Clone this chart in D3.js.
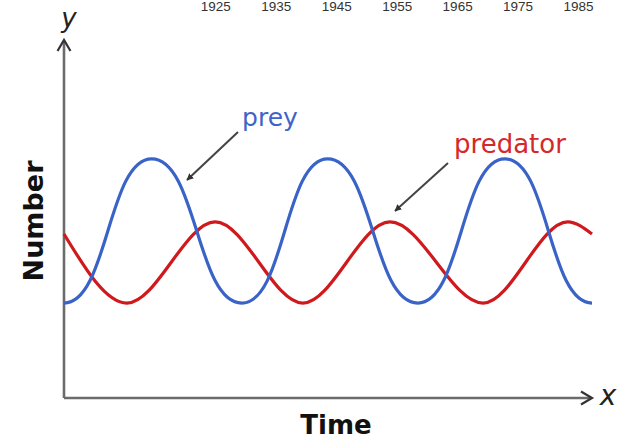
<!DOCTYPE html>
<html>
<head>
<meta charset="utf-8">
<script src="https://cdn.jsdelivr.net/npm/d3@7"></script>
<style>
  html, body { margin: 0; padding: 0; background: #fff; }
  svg { display: block; }
</style>
</head>
<body>
<svg id="chart" width="617" height="444"></svg>
<script>
// ---- data ----
const topTickYears = [1925, 1935, 1945, 1955, 1965, 1975, 1985];
const preyYears    = [1900, 1914.5, 1929.4, 1943.6, 1958.5, 1972.9, 1987.3];
const preyValues   = [26.5, 66.8, 26.5, 66.8, 26.5, 66.8, 26.5];
const predYears    = [1900, 1910.4, 1925.0, 1939.5, 1953.9, 1969.3, 1983.3, 1987.3];
const predValues   = [45.8, 26.5, 49.2, 26.5, 49.2, 26.5, 49.2, 45.8];
const seriesLabels = ["prey", "predator"];
const axisLabels   = { x: "Time", y: "Number" };

// ---- layout ----
const x0 = 64, x1 = 592, yBottom = 398, yTop = 40;
const svg = d3.select("#chart");

const x = d3.scaleLinear().domain([1900, 1987.3]).range([x0, x1]);
const y = d3.scaleLinear().domain([0, 100]).range([yBottom, yTop]);

// top axis (labels only)
const topAxis = svg.append("g")
  .attr("transform", "translate(0,10.5)")
  .call(d3.axisTop(x).tickValues(topTickYears).tickSize(0).tickPadding(0).tickFormat(d3.format("d")));
topAxis.select(".domain").remove();
topAxis.selectAll("text")
  .attr("font-family", "Liberation Sans, Arial, sans-serif")
  .attr("font-size", 13.5)
  .attr("fill", "#333");

// axes with arrows
const axisColor = "#6b6b6b";
svg.append("path")
  .attr("d", `M${x0},${yBottom} L${x0},${yTop + 1} M${x0},${yBottom} L${x1 - 1},${yBottom}`)
  .attr("fill", "none").attr("stroke", axisColor).attr("stroke-width", 2.6);
svg.append("path")
  .attr("d", `M${x0 - 6.5},${yTop + 11} L${x0},${yTop} L${x0 + 6.5},${yTop + 11}`)
  .attr("fill", "none").attr("stroke", "#333").attr("stroke-width", 2.2);
svg.append("path")
  .attr("d", `M${x1 - 11},${yBottom - 6.5} L${x1},${yBottom} L${x1 - 11},${yBottom + 6.5}`)
  .attr("fill", "none").attr("stroke", "#333").attr("stroke-width", 2.2);

// series lines
const predLine = d3.line().x(d => x(d[0])).y(d => y(d[1])).curve(d3.curveMonotoneX);
const preyLine = d3.line().x(d => x(d[0])).y(d => y(d[1])).curve(d3.curveBumpX);
const predData = predYears.map((yr, i) => [yr, predValues[i]]);
const preyData = preyYears.map((yr, i) => [yr, preyValues[i]]);

svg.append("path").datum(predData).attr("d", predLine)
  .attr("fill", "none").attr("stroke", "#d0191c").attr("stroke-width", 3.2);
svg.append("path").datum(preyData).attr("d", preyLine)
  .attr("fill", "none").attr("stroke", "#3a63c8").attr("stroke-width", 3.2);

// annotation arrows
svg.append("defs").append("marker")
  .attr("id", "ah").attr("viewBox", "0 0 10 10").attr("refX", 9).attr("refY", 5)
  .attr("markerWidth", 7).attr("markerHeight", 7).attr("markerUnits", "userSpaceOnUse")
  .attr("orient", "auto")
  .append("path").attr("d", "M0,0 L10,5 L0,10 Z").attr("fill", "#333");

function annot(xs, ys, xe, ye) {
  svg.append("line")
    .attr("x1", xs).attr("y1", ys).attr("x2", xe).attr("y2", ye)
    .attr("stroke", "#444").attr("stroke-width", 2)
    .attr("marker-end", "url(#ah)");
}
annot(238, 132, 187, 180);
annot(448, 163, 395, 211);

svg.append("text").text(seriesLabels[0])
  .attr("x", 270).attr("y", 126).attr("text-anchor", "middle")
  .attr("font-family", "DejaVu Sans, Verdana, sans-serif").attr("font-size", 25)
  .attr("fill", "#3f63c7");
svg.append("text").text(seriesLabels[1])
  .attr("x", 510).attr("y", 153).attr("text-anchor", "middle")
  .attr("font-family", "DejaVu Sans, Verdana, sans-serif").attr("font-size", 26)
  .attr("fill", "#d4282b");

// axis titles
svg.append("text").text(axisLabels.x)
  .attr("x", 336).attr("y", 434).attr("text-anchor", "middle")
  .attr("font-family", "DejaVu Sans, Verdana, sans-serif").attr("font-weight", "bold")
  .attr("font-size", 26).attr("fill", "#111");
svg.append("text").text(axisLabels.y)
  .attr("transform", "translate(43,221) rotate(-90)").attr("text-anchor", "middle")
  .attr("font-family", "DejaVu Sans, Verdana, sans-serif").attr("font-weight", "bold")
  .attr("font-size", 27).attr("fill", "#111");

svg.append("text").text("y")
  .attr("x", 69).attr("y", 27).attr("text-anchor", "middle")
  .attr("font-family", "DejaVu Sans, Verdana, sans-serif").attr("font-style", "italic")
  .attr("font-size", 26).attr("fill", "#222");
svg.append("text").text("x")
  .attr("x", 608).attr("y", 405).attr("text-anchor", "middle")
  .attr("font-family", "DejaVu Sans, Verdana, sans-serif").attr("font-style", "italic")
  .attr("font-size", 28).attr("fill", "#222");
</script>
</body>
</html>
